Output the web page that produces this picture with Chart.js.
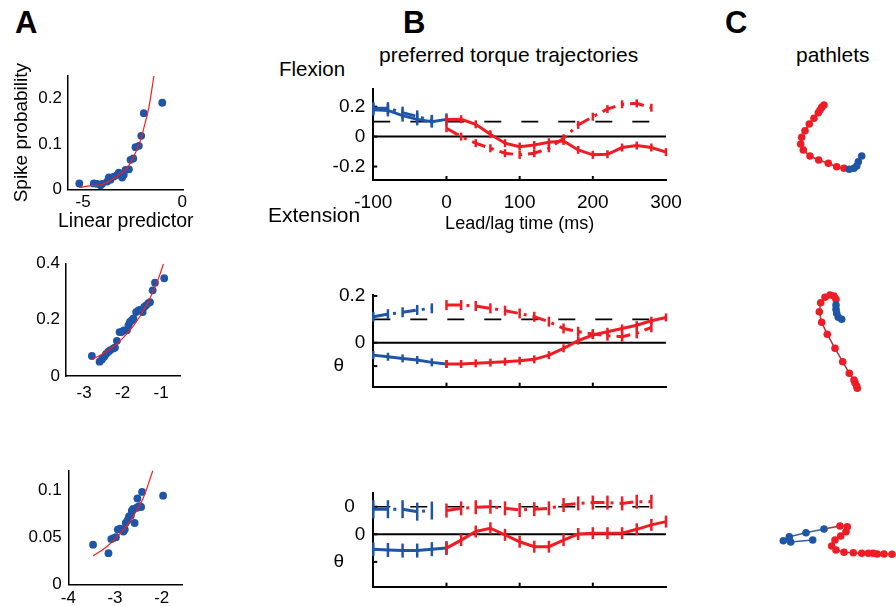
<!DOCTYPE html>
<html lang="en">
<head>
  <meta charset="UTF-8">
  <title>Preferred torque trajectories and pathlets</title>
  <style>
    html, body { margin: 0; padding: 0; background: #fff; }
    body { font-family: 'Liberation Sans', Arial, Helvetica, sans-serif; color: #000; }
    #fig { position: relative; width: 896px; height: 606px; overflow: hidden; }
    #fig canvas { position: absolute; }
    .lbl { position: absolute; white-space: nowrap; line-height: 1; }
    .panel { font-weight: bold; font-size: 31px; }
  </style>
</head>
<body>
<div id="fig">
  <canvas id="a1" width="200" height="176" style="left:0;top:62px"></canvas>
  <canvas id="a2" width="200" height="160" style="left:0;top:250px"></canvas>
  <canvas id="a3" width="200" height="151" style="left:0;top:455px"></canvas>
  <canvas id="b1" width="390" height="160" style="left:300px;top:80px"></canvas>
  <canvas id="b2" width="390" height="110" style="left:300px;top:285px"></canvas>
  <canvas id="b3" width="390" height="110" style="left:300px;top:485px"></canvas>
  <canvas id="c1" width="136" height="110" style="left:760px;top:80px"></canvas>
  <canvas id="c2" width="136" height="120" style="left:760px;top:280px"></canvas>
  <canvas id="c3" width="136" height="80" style="left:760px;top:500px"></canvas>

  <div class="lbl panel" style="left:15px;top:7px">A</div>
  <div class="lbl panel" style="left:403px;top:7px">B</div>
  <div class="lbl panel" style="left:725px;top:7px">C</div>
  <div class="lbl" style="left:379px;top:44px;font-size:21px">preferred torque trajectories</div>
  <div class="lbl" style="left:796px;top:44px;font-size:21px">pathlets</div>
  <div class="lbl" style="left:279px;top:59px;font-size:20.5px">Flexion</div>
  <div class="lbl" style="left:268px;top:204px;font-size:21px">Extension</div>
  <div class="lbl" style="left:58px;top:211px;font-size:19.5px">Linear predictor</div>
</div>

<script src="https://cdn.jsdelivr.net/npm/chart.js"></script>
<script>
  // ---- panel A: spike probability against the linear predictor ----
  const a1Pred = [-5.19, -4.46, -4.29, -4.12, -4.04, -3.79, -3.62, -3.70, -3.45, -3.28, -3.20, -3.03, -2.95, -2.86, -2.69, -2.61, -2.47, -2.36, -2.19, -2.07, -1.94, -1.01];
  const a1Prob = [0.013, 0.013, 0.012, 0.009, 0.012, 0.017, 0.021, 0.026, 0.028, 0.032, 0.037, 0.026, 0.032, 0.043, 0.044, 0.065, 0.068, 0.093, 0.096, 0.118, 0.168, 0.191];
  const a1FitX = [-5.2, -4.6, -4.1, -3.6, -3.3, -2.8, -2.45, -2.1, -1.94, -1.68, -1.43];
  const a1FitY = [0.004, 0.008, 0.010, 0.020, 0.028, 0.046, 0.072, 0.109, 0.135, 0.182, 0.25];

  const a2Pred = [-2.80, -2.60, -2.54, -2.48, -2.43, -2.37, -2.32, -2.24, -2.20, -2.15, -2.08, -2.03, -1.97, -1.89, -1.85, -1.81, -1.76, -1.72, -1.65, -1.59, -1.55, -1.48, -1.44, -1.39, -1.33, -1.29, -1.22, -1.16, -0.92];
  const a2Prob = [0.071, 0.051, 0.059, 0.068, 0.078, 0.086, 0.092, 0.098, 0.101, 0.125, 0.156, 0.156, 0.162, 0.162, 0.180, 0.192, 0.198, 0.204, 0.227, 0.233, 0.235, 0.227, 0.245, 0.251, 0.259, 0.262, 0.304, 0.331, 0.347];
  const a2FitX = [-2.8, -2.5, -2.2, -1.96, -1.75, -1.55, -1.35, -1.2, -1.06, -0.94];
  const a2FitY = [0.059, 0.080, 0.108, 0.140, 0.173, 0.212, 0.260, 0.303, 0.350, 0.398];

  const a3Pred = [-3.47, -3.14, -3.08, -3.03, -2.98, -2.94, -2.89, -2.82, -2.79, -2.77, -2.73, -2.70, -2.66, -2.64, -2.61, -2.58, -2.54, -2.51, -2.47, -2.44, -2.52, -2.42, -1.97];
  const a3Prob = [0.042, 0.033, 0.048, 0.049, 0.050, 0.058, 0.059, 0.056, 0.058, 0.065, 0.068, 0.072, 0.073, 0.078, 0.080, 0.065, 0.081, 0.082, 0.083, 0.082, 0.091, 0.098, 0.094];
  const a3FitX = [-3.47, -3.2, -3.0, -2.8, -2.6, -2.4, -2.19];
  const a3FitY = [0.030, 0.039, 0.048, 0.059, 0.073, 0.091, 0.1205];

  const a1XTicks = [-5, 0],         a1XLabels = ['-5', '0'];
  const a1YTicks = [0, 0.1, 0.2],   a1YLabels = ['0', '0.1', '0.2'];
  const a2XTicks = [-3, -2, -1],    a2XLabels = ['-3', '-2', '-1'];
  const a2YTicks = [0, 0.2, 0.4],   a2YLabels = ['0', '0.2', '0.4'];
  const a3XTicks = [-4, -3, -2],    a3XLabels = ['-4', '-3', '-2'];
  const a3YTicks = [0, 0.05, 0.1],  a3YLabels = ['0', '0.05', '0.1'];

  // ---- panel B: torque trajectories, lead (blue) and lag (red) ----
  const leadT     = [-100, -80, -60, -40, -20, 0];
  const leadTDash = [-100, -80, -60, -40, -20];
  const lagT      = [0, 20, 40, 60, 80, 100, 120, 140, 160, 180, 200, 220, 240, 260, 280, 300];
  const lagTDash  = [0, 20, 40, 60, 80, 100, 120, 140, 160, 180, 200, 220, 240, 260, 280];
  const refSpan   = [-100, 300];
  const refDashed = 0.1;
  const refZero   = 0;

  const b1BlueSolid = [0.18, 0.175, 0.14, 0.115, 0.10, 0.115];
  const b1BlueDash  = [0.19, 0.19, 0.16, 0.135, 0.105];
  const b1RedSolid  = [0.115, 0.116, 0.082, 0.016, -0.044, -0.067, -0.056, -0.038, -0.029, -0.089, -0.122, -0.118, -0.073, -0.06, -0.073, -0.104];
  const b1RedDash   = [0.056, 0.0, -0.044, -0.078, -0.111, -0.122, -0.111, -0.078, -0.011, 0.078, 0.133, 0.184, 0.216, 0.222, 0.193];

  const b2BlueSolid = [-0.053, -0.06, -0.067, -0.074, -0.084, -0.091];
  const b2BlueDash  = [0.111, 0.122, 0.13, 0.14, 0.147];
  const b2RedSolid  = [-0.091, -0.091, -0.088, -0.085, -0.081, -0.077, -0.071, -0.053, -0.024, 0.009, 0.033, 0.047, 0.061, 0.075, 0.094, 0.108];
  const b2RedDash   = [0.161, 0.161, 0.157, 0.147, 0.137, 0.125, 0.111, 0.09, 0.061, 0.047, 0.037, 0.030, 0.026, 0.040, 0.066];

  const b3BlueSolid = [-0.054, -0.057, -0.059, -0.059, -0.054, -0.05];
  const b3BlueDash  = [0.091, 0.091, 0.091, 0.082, 0.086];
  const b3RedSolid  = [-0.05, -0.021, 0.01, 0.022, -0.002, -0.027, -0.045, -0.045, -0.021, 0.001, 0.004, 0.004, 0.004, 0.018, 0.034, 0.046];
  const b3RedDash   = [0.086, 0.094, 0.098, 0.1, 0.094, 0.088, 0.091, 0.094, 0.106, 0.112, 0.115, 0.115, 0.112, 0.118, 0.118];

  const bXTicks = [-100, 0, 100, 200, 300], bXLabels = ['-100', '0', '100', '200', '300'];
  const bInnerX = [0, 100, 200];
  const b1YTicks = [0.2, 0, -0.2], b1YLabels = ['0.2', '0', '-0.2'];
  const b2YTicks = [0.2, 0, -0.1], b2YLabels = ['0.2', '0', 'θ    '];
  const b3YTicks = [0.1, 0, -0.1], b3YLabels = ['0  ', '0', 'θ    '];

  // ---- panel C: pathlets (lead part blue, lag part red) ----
  const c1BlueX = [101.7, 98.3, 96.7, 94, 89.3];
  const c1BlueY = [76, 81.7, 86, 88.3, 89.3];
  const c1RedX  = [84, 76.7, 68.3, 58.7, 50, 43.3, 40.7, 41.7, 45, 49.3, 54, 58.3, 60, 61.7, 64];
  const c1RedY  = [88.3, 86.7, 83.3, 80, 76, 70, 64, 57.3, 50.7, 44, 38.3, 32.7, 30, 27.3, 25];

  const c2BlueX = [81.7, 78.3, 76.7, 76, 76];
  const c2BlueY = [39.3, 37.3, 33.3, 29.3, 25];
  const c2RedX  = [76, 74, 70, 65, 60.7, 59.3, 61.7, 67.3, 75, 82.7, 89.3, 94, 95, 96.7, 97.3];
  const c2RedY  = [19.3, 16, 15, 17.3, 22.7, 31.7, 42.3, 54.3, 68.3, 81.7, 93.3, 100, 102.7, 106, 108.3];

  const c3BlueX = [52.7, 30.7, 23.3, 29.3, 46, 64];
  const c3BlueY = [40, 42, 40.7, 36.7, 32.7, 29];
  const c3RedX  = [80, 87.3, 86, 80.7, 75, 71.7, 76, 84, 93.3, 101.7, 108.3, 113.3, 117.3, 124, 132];
  const c3RedY  = [26, 26.7, 31.7, 36, 40, 46, 50, 52.3, 52.7, 53.3, 53.3, 53.3, 54, 54, 54.3];

  const BLUE = '#1f55a6';
  const RED = '#ee1d25';
  const DASHDOT = [14, 6, 3, 6];

  Chart.defaults.font.family = "'Liberation Sans', Arial, Helvetica, sans-serif";
  Chart.defaults.color = '#000';

  // axis with a fixed box size so the plot area lands where it should
  function sizedAxis(o) {
    return {
      type: 'linear',
      min: o.min, max: o.max,
      grid: { display: false, drawTicks: false },
      border: { display: true, color: '#000', width: o.border },
      ticks: {
        display: !!o.labels,
        font: { size: o.fontSize },
        padding: o.pad || 0,
        callback: (v, i) => (o.labels ? o.labels[i] : '')
      },
      title: o.title
        ? { display: true, text: o.title, font: { size: o.titleSize }, padding: { top: o.titlePad, bottom: o.titlePad } }
        : { display: false },
      afterBuildTicks: s => { s.ticks = o.ticks.map(v => ({ value: v })); },
      afterFit: s => {
        if (s.isHorizontal()) s.height = o.size; else s.width = o.size;
        s.paddingTop = s.paddingBottom = s.paddingLeft = s.paddingRight = 0;
      }
    };
  }

  const innerTicks = {
    id: 'innerTicks',
    beforeDatasetsDraw(chart, args, opts) {
      const { ctx, chartArea: a, scales } = chart;
      ctx.save();
      ctx.strokeStyle = '#000';
      ctx.lineWidth = 2;
      (opts.x || []).forEach(v => {
        const p = scales.x.getPixelForValue(v);
        ctx.beginPath(); ctx.moveTo(p, a.bottom); ctx.lineTo(p, a.bottom - 4); ctx.stroke();
      });
      (opts.y || []).forEach(v => {
        const p = scales.y.getPixelForValue(v);
        ctx.beginPath(); ctx.moveTo(a.left, p); ctx.lineTo(a.left + 4, p); ctx.stroke();
      });
      ctx.restore();
    }
  };

  const baseOptions = (pad) => ({
    responsive: false,
    animation: false,
    events: [],
    layout: { padding: pad, autoPadding: false },
    plugins: { legend: { display: false }, tooltip: { enabled: false } }
  });

  function scatterPanel(id, px, py, fx, fy, ax) {
    const pts = px.map((x, i) => ({ x, y: py[i] }));
    const fit = fx.map((x, i) => ({ x, y: fy[i] }));
    new Chart(document.getElementById(id), {
      type: 'scatter',
      data: {
        datasets: [
          { data: fit, showLine: true, borderColor: '#ff1a1a', borderWidth: 1.2, pointRadius: 0,
            cubicInterpolationMode: 'monotone', clip: false },
          { data: pts, pointRadius: 3.9, pointBackgroundColor: BLUE, pointBorderWidth: 0, clip: false }
        ]
      },
      options: Object.assign(baseOptions(ax.pad), {
        scales: { x: sizedAxis(ax.x), y: sizedAxis(ax.y) }
      })
    });
  }

  function tracePanel(id, traces, ax) {
    const sets = traces.map(t => ({
      data: t.t.map((x, i) => ({ x, y: t.v[i] })),
      showLine: true,
      borderColor: t.c,
      borderWidth: 3,
      borderDash: t.dash ? DASHDOT : [],
      pointStyle: 'line',
      pointRotation: 90,
      pointRadius: t.r,
      pointBorderColor: t.c,
      pointBorderWidth: 2.5,
      clip: false
    }));
    sets.push({ data: refSpan.map(x => ({ x, y: refDashed })), showLine: true, borderColor: '#000',
                borderWidth: 1.6, borderDash: [17, 20], pointRadius: 0, clip: false });
    sets.push({ data: refSpan.map(x => ({ x, y: refZero })), showLine: true, borderColor: '#000',
                borderWidth: 2, pointRadius: 0, clip: false });
    const opts = baseOptions(ax.pad);
    opts.plugins.innerTicks = { x: bInnerX, y: ax.y.ticks };
    opts.scales = { x: sizedAxis(ax.x), y: sizedAxis(ax.y) };
    new Chart(document.getElementById(id), {
      type: 'scatter',
      data: { datasets: sets },
      options: opts,
      plugins: [innerTicks]
    });
  }

  function pathPanel(id, bx, by, rx, ry, w, h) {
    const blue = bx.map((x, i) => ({ x, y: by[i] }));
    const red = [blue[blue.length - 1]].concat(rx.map((x, i) => ({ x, y: ry[i] })));
    new Chart(document.getElementById(id), {
      type: 'scatter',
      data: {
        datasets: [
          { data: blue, showLine: true, borderColor: '#3a5ca6', borderWidth: 1.5,
            pointRadius: 3.8, pointBackgroundColor: BLUE, pointBorderWidth: 0, clip: false },
          { data: red, showLine: true, borderColor: '#a8323e', borderWidth: 1.5,
            pointRadius: c => (c.dataIndex === 0 ? 0 : 3.8), pointBackgroundColor: RED, pointBorderWidth: 0, clip: false }
        ]
      },
      options: Object.assign(baseOptions(0), {
        scales: {
          x: { type: 'linear', display: false, min: 0, max: w },
          y: { type: 'linear', display: false, min: 0, max: h, reverse: true }
        }
      })
    });
  }

  // panel A
  scatterPanel('a1', a1Pred, a1Prob, a1FitX, a1FitY, {
    pad: { top: 14, right: 16.7, left: 0, bottom: 0 },
    x: { min: -5.76, max: 0.05, ticks: a1XTicks, labels: a1XLabels, fontSize: 17, pad: 3, size: 48.7, border: 1.5 },
    y: { min: 0, max: 0.25, ticks: a1YTicks, labels: a1YLabels, fontSize: 17, pad: 6, size: 68, border: 1.5,
         title: 'Spike probability', titleSize: 19, titlePad: 10 }
  });
  scatterPanel('a2', a2Pred, a2Prob, a2FitX, a2FitY, {
    pad: { top: 13.3, right: 20, left: 0, bottom: 0 },
    x: { min: -3.48, max: -0.51, ticks: a2XTicks, labels: a2XLabels, fontSize: 17, pad: 7, size: 34, border: 1.5 },
    y: { min: 0, max: 0.4, ticks: a2YTicks, labels: a2YLabels, fontSize: 17, pad: 5.7, size: 65.7, border: 1.5 }
  });
  scatterPanel('a3', a3Pred, a3Prob, a3FitX, a3FitY, {
    pad: { top: 15.7, right: 17.3, left: 0, bottom: 0 },
    x: { min: -4, max: -1.55, ticks: a3XTicks, labels: a3XLabels, fontSize: 17, pad: 3.4, size: 21.7, border: 1.5 },
    y: { min: 0, max: 0.1205, ticks: a3YTicks, labels: a3YLabels, fontSize: 17, pad: 6.6, size: 68.3, border: 1.5 }
  });

  // panel B
  tracePanel('b1', [
    { t: lagT, v: b1RedSolid, c: RED, dash: false, r: 4 },
    { t: lagTDash, v: b1RedDash, c: RED, dash: true, r: 4 },
    { t: leadT, v: b1BlueSolid, c: BLUE, dash: false, r: 6 },
    { t: leadTDash, v: b1BlueDash, c: BLUE, dash: true, r: 6 }
  ], {
    pad: { top: 9.3, right: 24, left: 0, bottom: 0 },
    x: { min: -100, max: 300, ticks: bXTicks, labels: bXLabels, fontSize: 19, pad: 11, size: 60, border: 2,
         title: 'Lead/lag time (ms)', titleSize: 18, titlePad: 5.6 },
    y: { min: -0.29, max: 0.316, ticks: b1YTicks, labels: b1YLabels, fontSize: 19, pad: 8, size: 73.3, border: 2 }
  });
  tracePanel('b2', [
    { t: lagT, v: b2RedSolid, c: RED, dash: false, r: 4 },
    { t: lagTDash, v: b2RedDash, c: RED, dash: true, r: 5 },
    { t: leadT, v: b2BlueSolid, c: BLUE, dash: false, r: 4 },
    { t: leadTDash, v: b2BlueDash, c: BLUE, dash: true, r: 5 }
  ], {
    pad: { top: 10, right: 24, left: 0, bottom: 0 },
    x: { min: -100, max: 300, ticks: bXTicks, size: 8.3, border: 2 },
    y: { min: -0.188, max: 0.204, ticks: b2YTicks, labels: b2YLabels, fontSize: 19, pad: 8, size: 73.3, border: 2 }
  });
  tracePanel('b3', [
    { t: lagT, v: b3RedSolid, c: RED, dash: false, r: 6 },
    { t: lagTDash, v: b3RedDash, c: RED, dash: true, r: 7 },
    { t: leadT, v: b3BlueSolid, c: BLUE, dash: false, r: 7 },
    { t: leadTDash, v: b3BlueDash, c: BLUE, dash: true, r: 9 }
  ], {
    pad: { top: 8.3, right: 24, left: 0, bottom: 0 },
    x: { min: -100, max: 300, ticks: bXTicks, size: 8.3, border: 2 },
    y: { min: -0.19, max: 0.1486, ticks: b3YTicks, labels: b3YLabels, fontSize: 19, pad: 8, size: 73.3, border: 2 }
  });

  // panel C
  pathPanel('c1', c1BlueX, c1BlueY, c1RedX, c1RedY, 136, 110);
  pathPanel('c2', c2BlueX, c2BlueY, c2RedX, c2RedY, 136, 120);
  pathPanel('c3', c3BlueX, c3BlueY, c3RedX, c3RedY, 136, 80);
</script>
</body>
</html>
